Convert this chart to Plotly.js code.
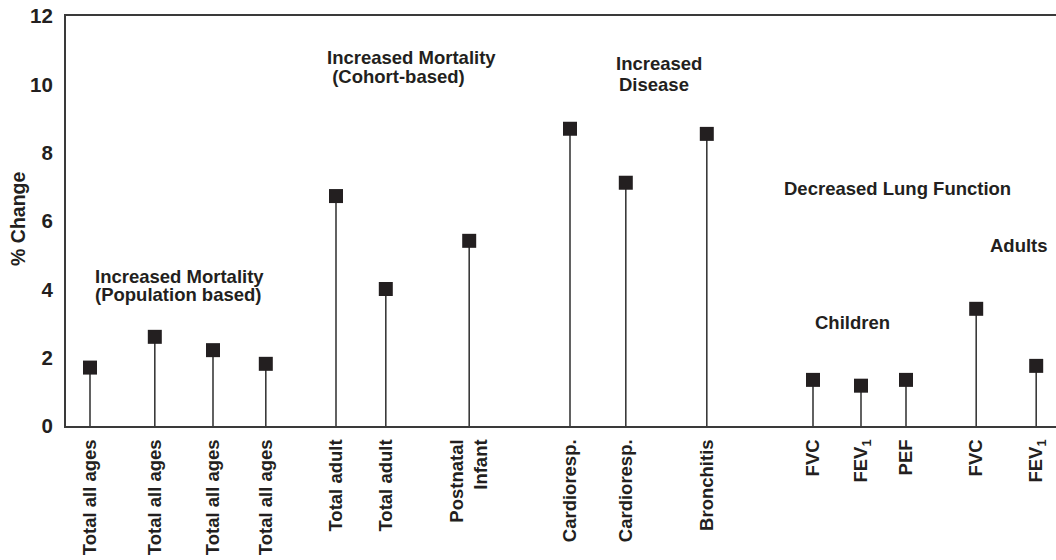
<!DOCTYPE html>
<html>
<head>
<meta charset="utf-8">
<script src="https://cdn.plot.ly/plotly-3.0.1.min.js"></script>
<style>html,body{margin:0;padding:0;background:#fff;}#chart{width:1056px;height:560px;}</style>
</head>
<body>
<div id="chart"></div>
<script>
// Outcome categories (tick labels) and their positions along the x axis
const labels = ["Total all ages", "Total all ages", "Total all ages", "Total all ages",
  "Total adult", "Total adult", "Postnatal<br>Infant",
  "Cardioresp.", "Cardioresp.", "Bronchitis",
  "FVC", "FEV<sub>1</sub>", "PEF", "FVC", "FEV<sub>1</sub>"];
const xPos = [0.4, 1.48, 2.45, 3.33, 4.5, 5.33, 6.72, 8.4, 9.33, 10.68, 12.45, 13.25, 14.0, 15.17, 16.17];
// % change values
const pctChange = [1.71, 2.61, 2.22, 1.82, 6.73, 4.01, 5.42, 8.70, 7.12, 8.55, 1.35, 1.18, 1.35, 3.43, 1.76];
// y tick values
const yTicks = [0, 2, 4, 6, 8, 10, 12];

const ink = '#231f20';
const font = 'Liberation Sans, Arial, Helvetica, sans-serif';

const trace = {
  type: 'scatter', mode: 'markers',
  x: xPos, y: pctChange,
  marker: {symbol: 'square', size: 14, color: ink},
  error_y: {type: 'data', symmetric: false, array: pctChange.map(() => 0), arrayminus: pctChange,
            width: 0, thickness: 1.6, color: '#3a3a3a'},
  hoverinfo: 'skip', showlegend: false
};

function note(text, x, y) {
  return {text: '<b>' + text + '</b>', x: x, y: y, xref: 'x', yref: 'y',
          xanchor: 'left', yanchor: 'middle', showarrow: false,
          font: {family: font, size: 18.5, color: ink}};
}

const layout = {
  width: 1056, height: 560,
  margin: {l: 66, r: 0, t: 16, b: 134},
  paper_bgcolor: '#fff', plot_bgcolor: '#fff',
  font: {family: font, color: ink},
  xaxis: {
    range: [0, 16.5], tickmode: 'array', tickvals: xPos,
    ticktext: labels.map(t => '<b>' + t + '</b>'),
    tickangle: -90, ticks: '', showgrid: false, zeroline: false,
    showline: true, linecolor: '#3a3a3a', linewidth: 2, mirror: true,
    ticklabelstandoff: 4,
    tickfont: {family: font, size: 18.5, color: ink}
  },
  yaxis: {
    range: [0, 12], tickmode: 'array', tickvals: yTicks,
    ticktext: yTicks.map(v => '<b>' + v + '</b>'),
    ticks: '', showgrid: false, zeroline: false,
    showline: true, linecolor: '#3a3a3a', linewidth: 2,
    ticklabelstandoff: 7,
    tickfont: {family: font, size: 20.5, color: ink}
  },
  annotations: [
    note('Increased Mortality', 0.45, 4.39),
    note('(Population based)', 0.45, 3.86),
    note('Increased Mortality', 4.32, 10.79),
    note(' (Cohort-based)', 4.32, 10.24),
    note('Increased', 9.13, 10.62),
    note('Disease', 9.18, 10.0),
    note('Decreased Lung Function', 11.93, 6.96),
    note('Children', 12.45, 3.04),
    note('Adults', 15.37, 5.29),
    {text: '<b>% Change</b>', xref: 'paper', yref: 'paper', x: -0.0485, y: 0.505,
     xanchor: 'center', yanchor: 'middle', textangle: -90, showarrow: false,
     font: {family: font, size: 19.5, color: ink}}
  ]
};

Plotly.newPlot('chart', [trace], layout, {displayModeBar: false, staticPlot: true});
</script>
</body>
</html>
